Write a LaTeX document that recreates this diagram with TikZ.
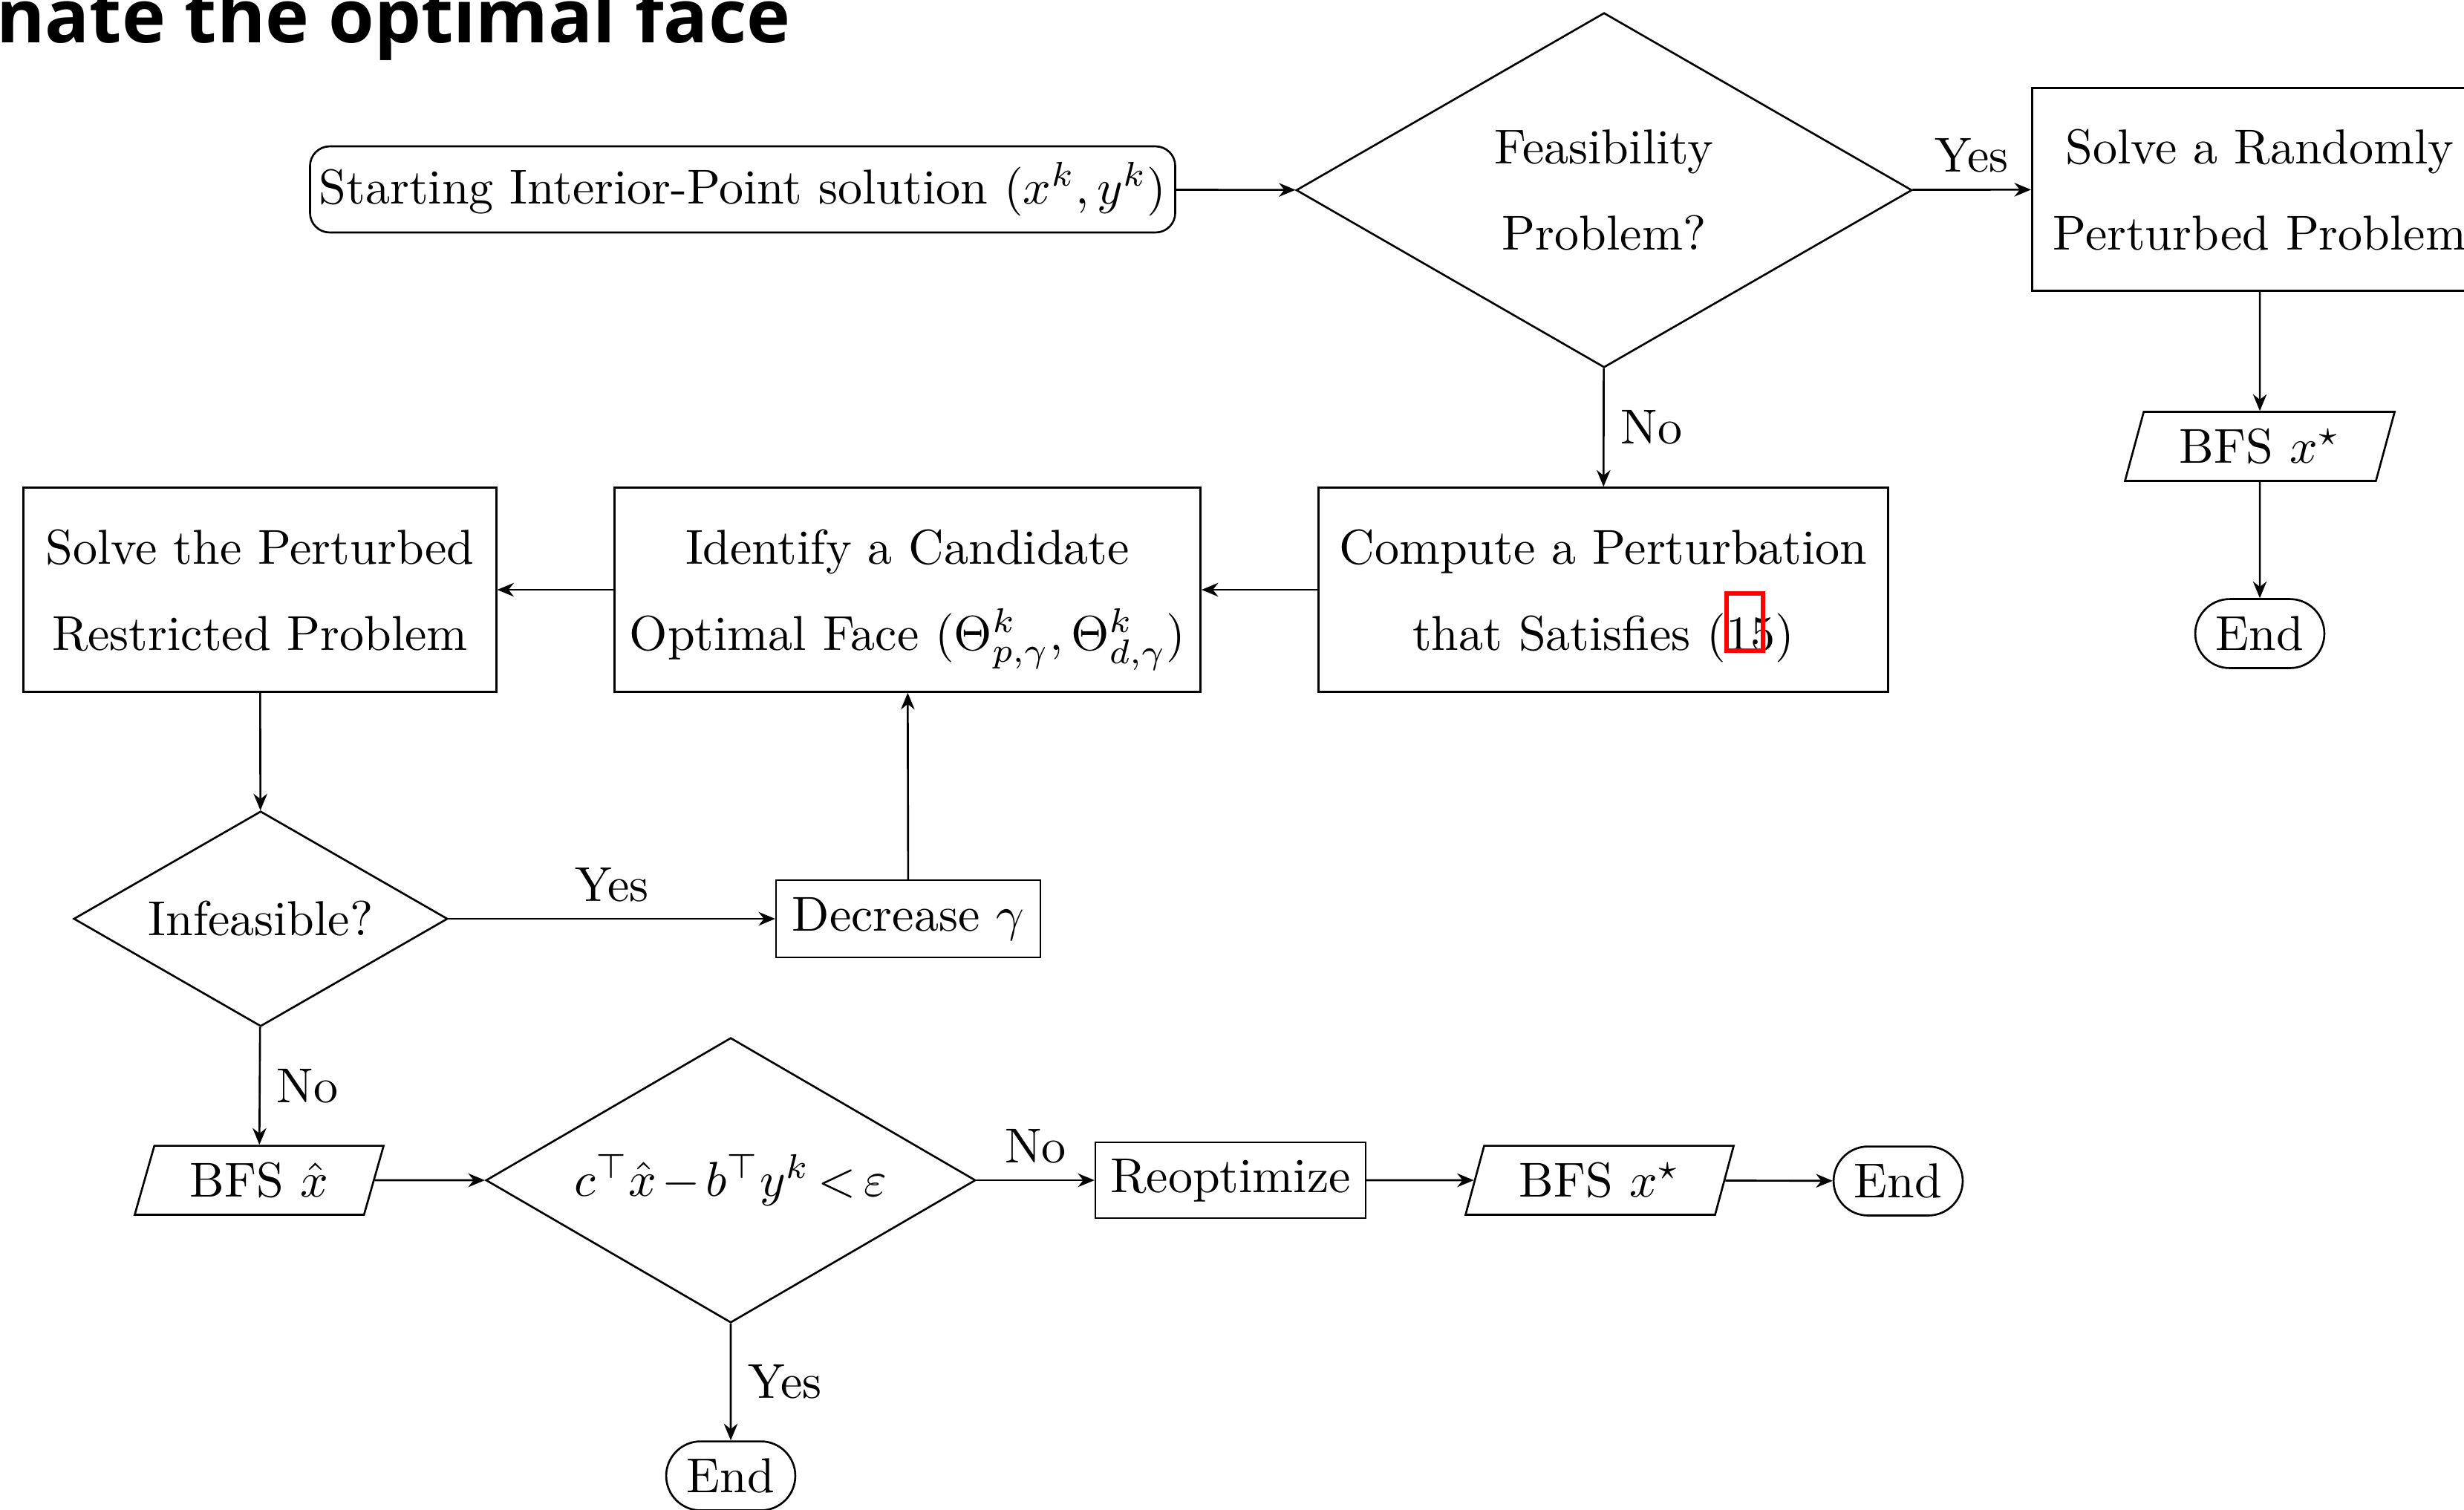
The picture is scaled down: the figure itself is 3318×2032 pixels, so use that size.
\documentclass[tikz,border=0pt]{standalone}
\usepackage{fontspec}
\usepackage{amsmath}
\IfFontExistsTF{Noto Sans Bold}
  {\newfontfamily\titlefont{Noto Sans Bold}}
  {\IfFontExistsTF{Open Sans Bold}
    {\newfontfamily\titlefont{Open Sans Bold}}
    {\newfontfamily\titlefont{Noto Sans}[FakeBold=3]}}
\usetikzlibrary{shapes.geometric,shapes.misc,arrows.meta}
\def\u{0.1514pt}
\tikzset{
  every node/.style={font=\fontsize{10}{17.5}\selectfont},
  procbox/.style={draw, rectangle, align=center, inner sep=0pt, text depth=0pt},
  decision/.style={draw, diamond, aspect=1.73, inner sep=0pt, align=center},
  iobox/.style={draw, trapezium, trapezium left angle=70, trapezium right angle=110,
    trapezium stretches=true, inner sep=0pt, minimum width=364*\u, minimum height=93*\u},
  termbox/.style={draw, rounded rectangle, inner sep=0pt, minimum width=174*\u, minimum height=93*\u},
  conn/.style={-{Stealth[length=3.4pt,width=2.8pt]}, line width=0.4pt},
  lbl/.style={inner sep=3.3pt}
}
\begin{document}
\begin{tikzpicture}[x=0.005322cm, y=-0.005322cm]
\useasboundingbox (0,0) rectangle (3318,2032);
\clip (0,0) rectangle (3318,2032);
% title fragment
\node[anchor=base west, inner sep=0pt, font=\titlefont\fontsize{15.1}{18}\selectfont] (title) at (-6,57) {nate the optimal face};
% nodes
\node[draw, rectangle, rounded corners=4pt, minimum width=1166*\u, minimum height=116*\u, inner sep=0pt] (start) at (1000,255) {Starting Interior-Point solution $(x^k,y^k)$};
\node[decision, minimum width=830*\u, minimum height=478*\u] (feas) at (2160,256) {Feasibility\\Problem?};
\node[procbox, minimum width=614*\u, minimum height=273*\u] (rand) at (3043,255) {Solve a Randomly\\Perturbed Problem};
\node[iobox] (bfsa) at (3043,601) {BFS $x^\star$};
\node[termbox] (enda) at (3043,853) {End};
\node[procbox, minimum width=768*\u, minimum height=275*\u] (comp) at (2159,794) {Compute a Perturbation\\that Satisfies (15)};
\node[procbox, minimum width=790*\u, minimum height=275*\u] (ident) at (1222,794) {Identify a Candidate\\Optimal Face $(\Theta^k_{p,\gamma},\Theta^k_{d,\gamma})$};
\node[procbox, minimum width=637*\u, minimum height=275*\u] (solve) at (350,794) {Solve the Perturbed\\Restricted Problem};
\node[decision, minimum width=504*\u, minimum height=290*\u] (inf) at (351,1237) {Infeasible?};
\node[procbox, minimum width=356*\u, minimum height=104*\u, text depth=] (dec) at (1223,1237) {Decrease $\gamma$};
\node[iobox, minimum width=336*\u] (bfsh) at (349,1589) {BFS $\hat{x}$};
\node[decision, minimum width=660*\u, minimum height=384*\u] (gap) at (984,1589) {\medmuskip=2mu\thickmuskip=3mu$c^\top\hat{x} - b^\top y^k < \varepsilon$};
\node[procbox, minimum width=364*\u, minimum height=102*\u, text depth=] (reopt) at (1657,1589) {Reoptimize};
\node[iobox, minimum width=362*\u] (bfsb) at (2154,1589) {BFS $x^\star$};
\node[termbox] (endb) at (2556,1590) {End};
\node[termbox] (endc) at (984,1987) {End};
% connectors
\draw[conn] (start) -- (feas);
\draw[conn] (feas) -- node[lbl, above] {Yes} (rand);
\draw[conn] (rand) -- (bfsa);
\draw[conn] (bfsa) -- (enda);
\draw[conn] (feas) -- node[lbl, right] {No} (comp);
\draw[conn] (comp) -- (ident);
\draw[conn] (ident) -- (solve);
\draw[conn] (solve) -- (inf);
\draw[conn] (inf) -- node[lbl, above] {Yes} (dec);
\draw[conn] (dec) -- (ident);
\draw[conn] (inf) -- node[lbl, right] {No} (bfsh);
\draw[conn] (bfsh) -- (gap);
\draw[conn] (gap) -- node[lbl, above] {No} (reopt);
\draw[conn] (reopt) -- (bfsb);
\draw[conn] (bfsb) -- (endb);
\draw[conn] (gap) -- node[lbl, right] {Yes} (endc);
% red highlight
\draw[red, line width=0.9pt] (2325,799) rectangle (2374,876);
\end{tikzpicture}
\end{document}
